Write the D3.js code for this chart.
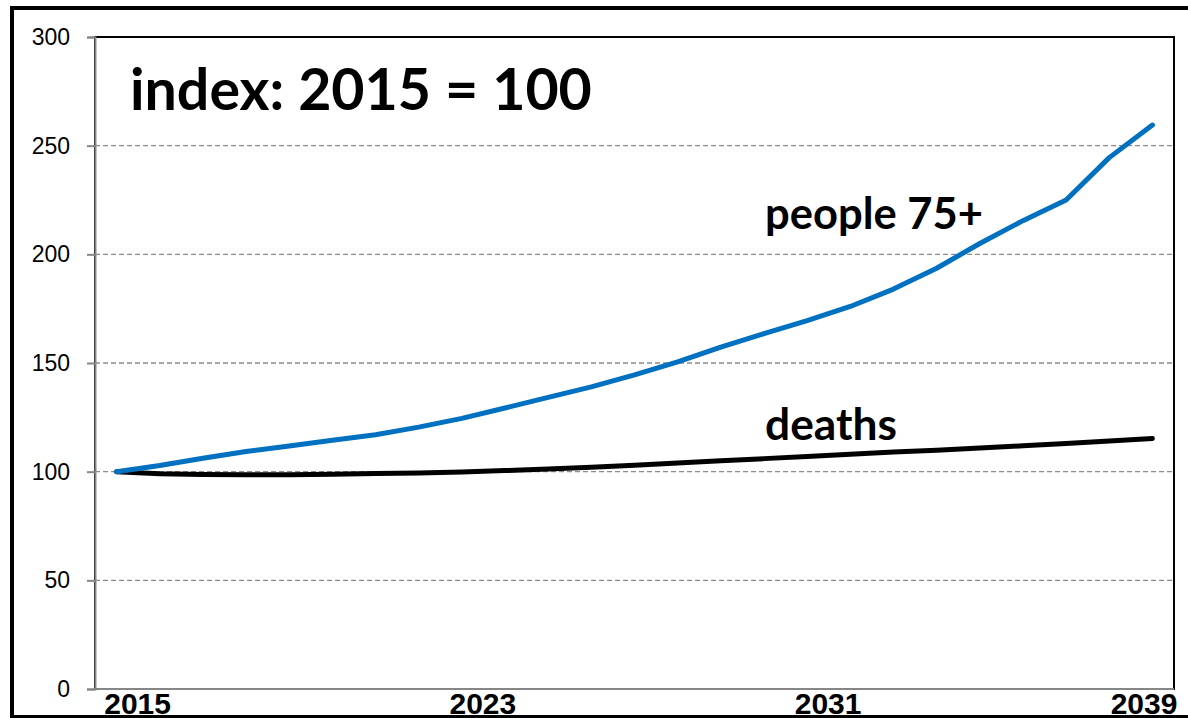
<!DOCTYPE html>
<html><head><meta charset="utf-8">
<script src="https://cdn.jsdelivr.net/npm/d3@7"></script>
<style>html,body{margin:0;padding:0;background:#fff;overflow:hidden}</style>
</head><body>
<svg id="c" width="1188" height="718"></svg>
<script>
const years = [2015,2016,2017,2018,2019,2020,2021,2022,2023,2024,2025,2026,2027,2028,2029,2030,2031,2032,2033,2034,2035,2036,2037,2038,2039];
const people75 = [100,102.8,106.2,109.3,111.8,114.5,117,120.5,124.5,129.3,134.2,139,144.5,150.5,157.3,163.5,169.5,176,184,193.6,205,215.5,225,244.5,259.5];
const deaths = [100,99.0,98.7,98.6,98.6,98.8,99.1,99.4,99.9,100.5,101.2,102,103,104,105,106,107,108,109,109.9,110.9,111.9,113,114.1,115.3];
const yTicks = [0,50,100,150,200,250,300];
const xLabelYears = [2015,2023,2031,2039];
const title = "index: 2015 = 100";
const seriesLabels = ["people 75+","deaths"];

const svg = d3.select("#c");
const L=95, R=1174, T=37, B=689;
const x = d3.scalePoint().domain(years).range([L,R]).padding(0.5);
const y = d3.scaleLinear().domain([0,300]).range([B,T]);

// outer frame
svg.append("rect").attr("x",12).attr("y",8).attr("width",1200).attr("height",709)
  .attr("fill","#fff").attr("stroke","#000").attr("stroke-width",4);

// plot area border
svg.append("rect").attr("x",L).attr("y",T).attr("width",R-L).attr("height",B-T)
  .attr("fill","none").attr("stroke","#000").attr("stroke-width",2);

// gridlines
svg.append("g").selectAll("line").data(yTicks.filter(d=>d>0&&d<300)).join("line")
  .attr("x1",L).attr("x2",R).attr("y1",d=>y(d)).attr("y2",d=>y(d))
  .attr("stroke","#8c8c8c").attr("stroke-width",1.3).attr("stroke-dasharray","5,3");

// y axis
const ya = svg.append("g").attr("transform",`translate(${L},0)`)
  .call(d3.axisLeft(y).tickValues(yTicks).tickSize(8).tickPadding(17));
ya.select(".domain").attr("stroke","#868686").attr("stroke-width",2);
ya.selectAll(".tick line").attr("stroke","#868686").attr("stroke-width",2);
ya.selectAll(".tick text").attr("font-family","Liberation Sans, Arial, sans-serif")
  .attr("font-size",23).attr("fill","#000");

// x axis line
svg.append("line").attr("x1",L).attr("x2",R).attr("y1",B).attr("y2",B)
  .attr("stroke","#868686").attr("stroke-width",2);

// x labels
svg.append("g").selectAll("text").data(xLabelYears).join("text")
  .attr("x",d=>Math.min(x(d)+21, 1178-34))
  .attr("y",714).attr("text-anchor","middle")
  .attr("font-family","Liberation Sans, Arial, sans-serif").attr("font-weight","bold")
  .attr("font-size",30).text(d=>d);

// lines
const line = d3.line().x((d,i)=>x(years[i])).y(d=>y(d));
svg.append("path").datum(deaths).attr("d",line).attr("fill","none")
  .attr("stroke","#000").attr("stroke-width",5).attr("stroke-linecap","round").attr("stroke-linejoin","round");
svg.append("path").datum(people75).attr("d",line).attr("fill","none")
  .attr("stroke","#0070C0").attr("stroke-width",5).attr("stroke-linecap","round").attr("stroke-linejoin","round");

// texts
function fitText(t, x0, base, size, targetW){
  const el = svg.append("text").attr("x",x0).attr("y",base)
    .attr("font-family","Lato, 'Open Sans', sans-serif").attr("font-weight","bold")
    .attr("font-size",size).attr("fill","#000").text(t);
  const w = el.node().getComputedTextLength();
  if (w>0) el.attr("font-size", size*targetW/w);
  return el;
}
fitText(title,130,110,57,462);
fitText(seriesLabels[0],765,229,38,218);
fitText(seriesLabels[1],765,440,38,132);
</script>
</body></html>
